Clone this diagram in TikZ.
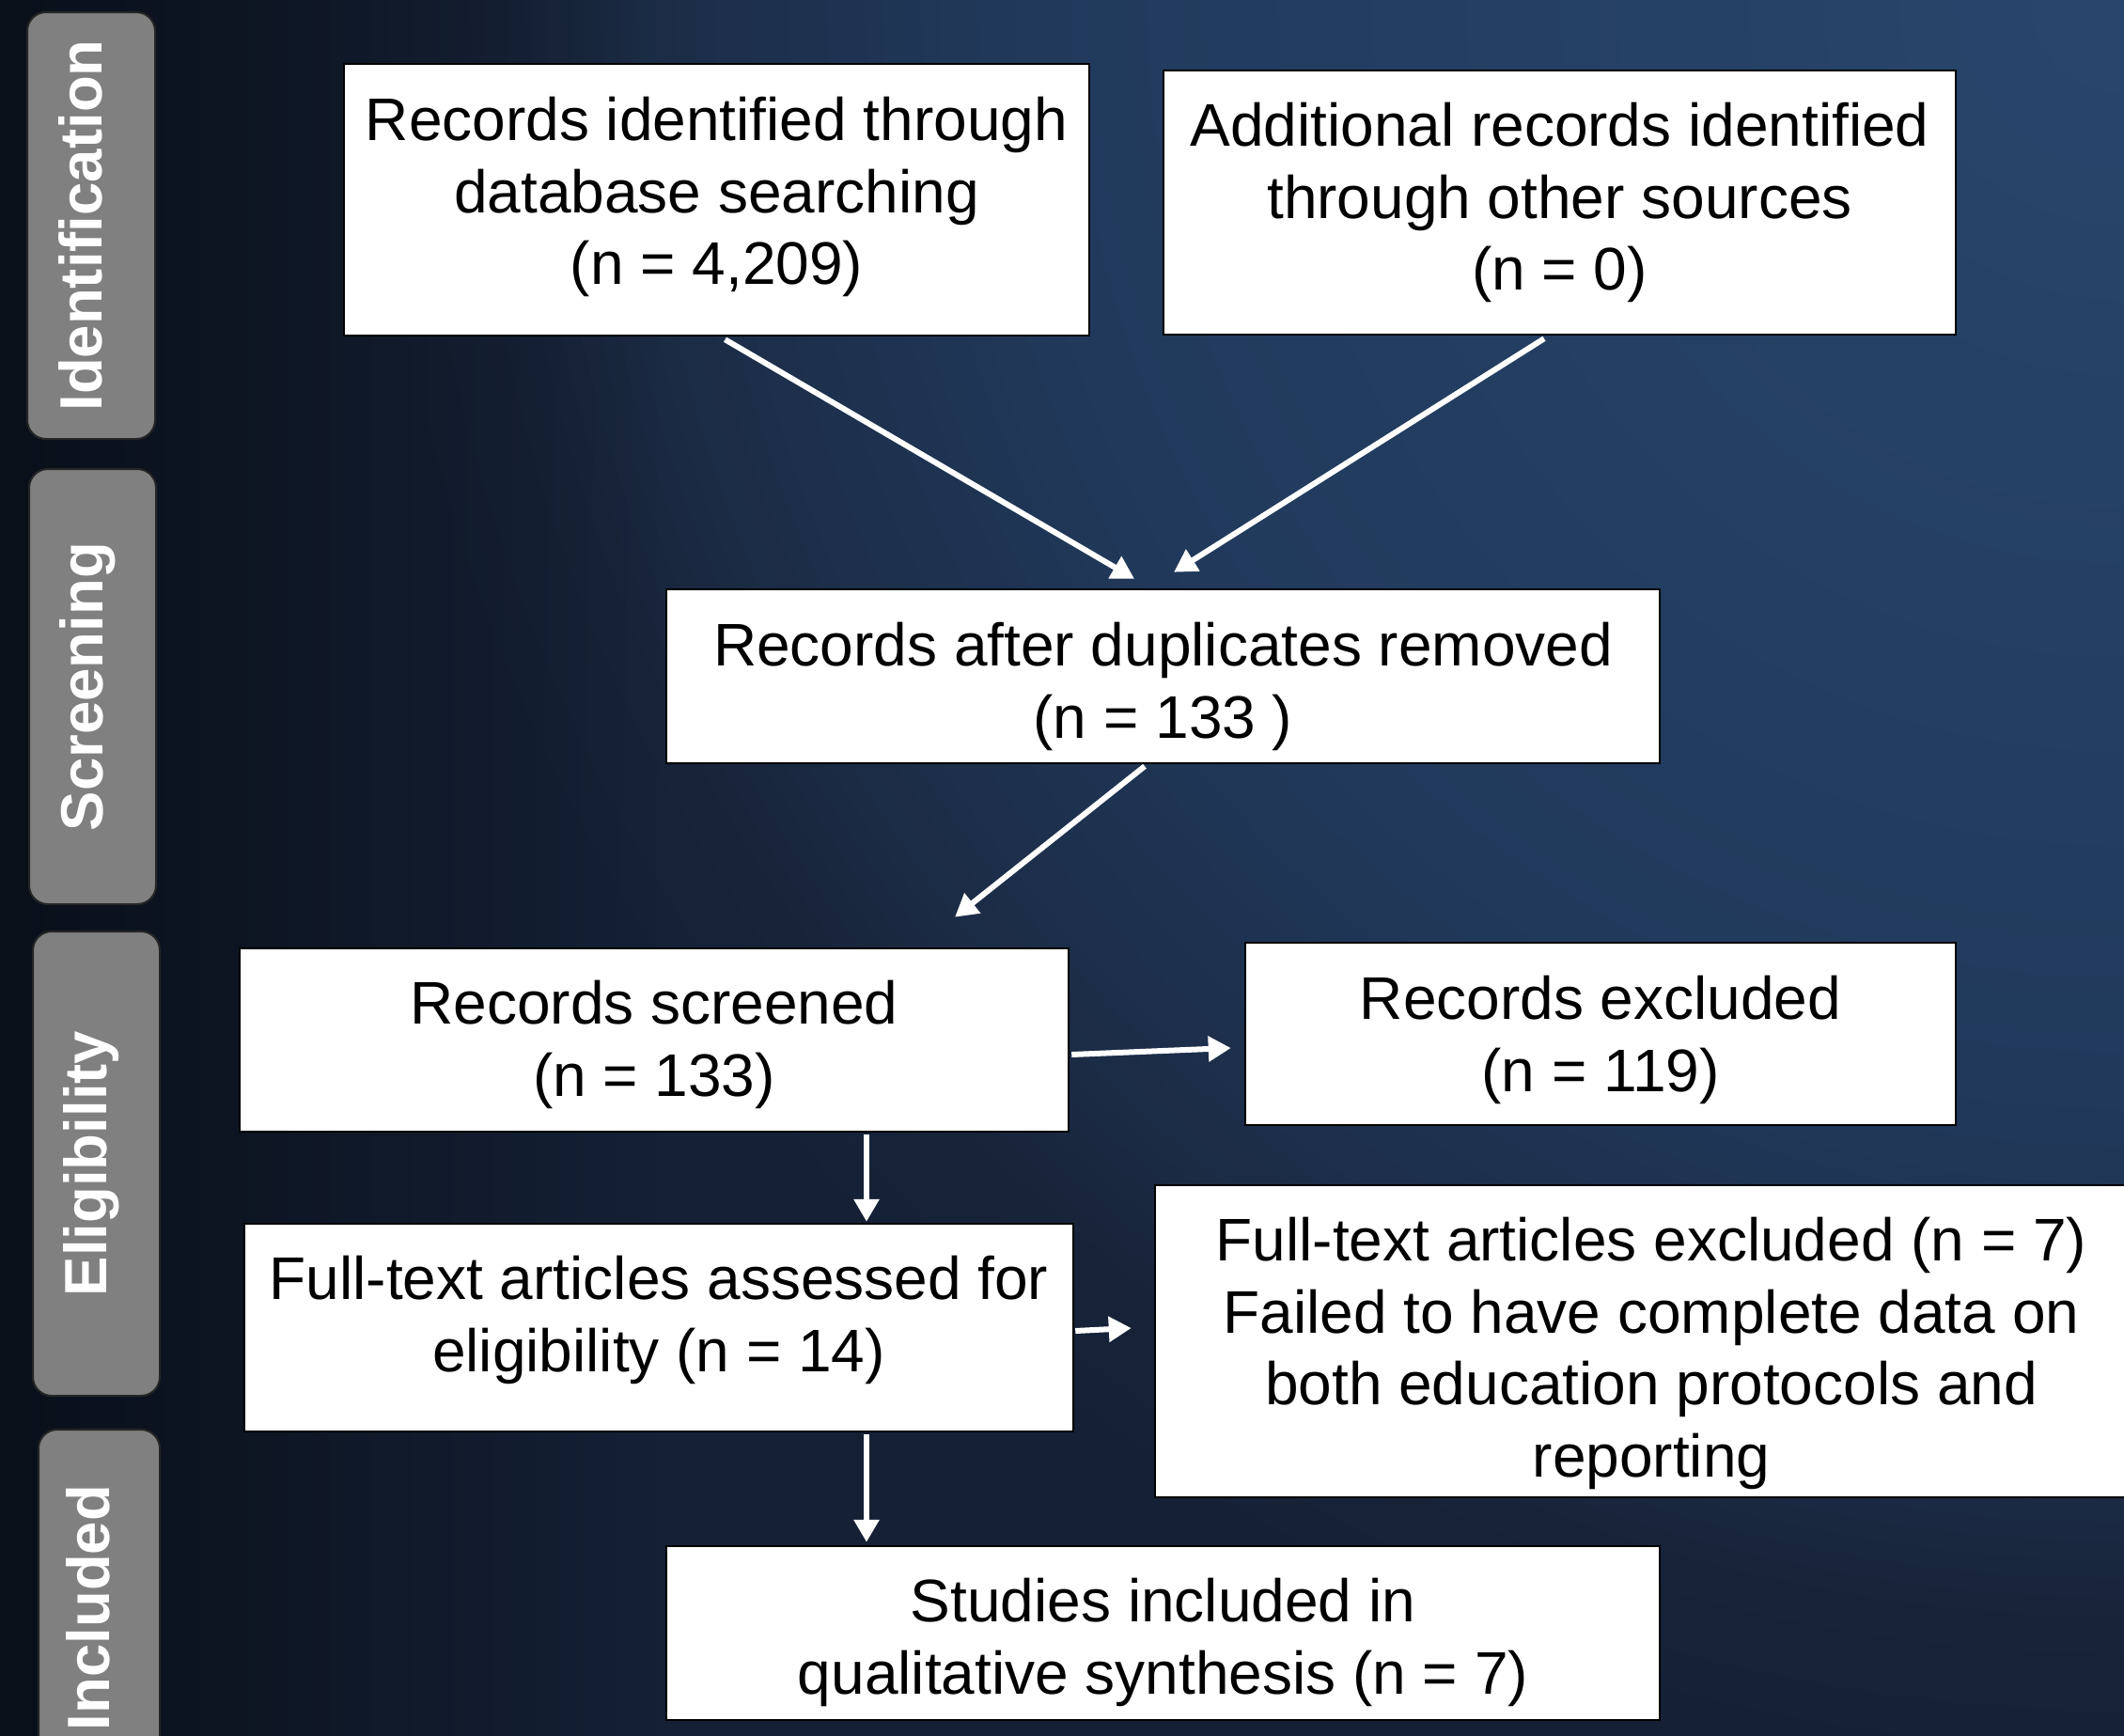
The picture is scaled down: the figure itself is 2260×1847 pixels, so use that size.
\documentclass[tikz,border=0pt]{standalone}
\usepackage{fontspec}
\setmainfont{Liberation Sans}
\usetikzlibrary{arrows.meta,calc,fadings}
\definecolor{bgA}{HTML}{28466C}
\definecolor{bgB}{HTML}{213A5C}
\definecolor{bgC}{HTML}{1C2D48}
\definecolor{bgD}{HTML}{172338}
\definecolor{bgE}{HTML}{152035}
\definecolor{bgdark}{HTML}{090F18}
\definecolor{labgray}{HTML}{808080}
\tikzfading[name=fadeleft, left color=transparent!0, right color=transparent!100]
\tikzset{
  box/.style={draw=black, line width=2.5pt, fill=white, rectangle, inner sep=0pt},
  boxtext/.style={anchor=north, inner sep=0pt, align=center, text=black,
    font=\fontsize{64}{76.5}\selectfont},
  phase/.style={draw=black!85, line width=2pt, fill=labgray, rounded corners=20pt,
    rectangle, inner sep=0pt},
  phasetext/.style={rotate=90, anchor=base, text=white, inner sep=0pt,
    font=\fontsize{63.5}{70}\selectfont\bfseries},
  arr/.style={draw=white, line width=6pt, -{Triangle[length=24pt,width=26pt]}},
}
\begin{document}
\begin{tikzpicture}[x=1pt,y=-1pt]
\useasboundingbox (0,0) rectangle (2260,1847);
\begin{scope}
\clip (0,0) rectangle (2260,1847);
% background: radial glow from the top right corner, darker towards the left
\fill[bgE] (-20,-20) rectangle (2280,1867);
\foreach \k in {0,...,94}{
  \pgfmathsetmacro\r{1900-20*\k}
  \ifdim\r pt<1160pt
    \pgfmathsetmacro\p{\r/1160*100}\colorlet{ringc}{bgB!\p!bgA}
  \else\ifdim\r pt<1550pt
    \pgfmathsetmacro\p{(\r-1160)/390*100}\colorlet{ringc}{bgC!\p!bgB}
  \else\ifdim\r pt<1750pt
    \pgfmathsetmacro\p{(\r-1550)/200*100}\colorlet{ringc}{bgD!\p!bgC}
  \else
    \pgfmathsetmacro\p{(\r-1750)/150*100}\colorlet{ringc}{bgE!\p!bgD}
  \fi\fi\fi
  \fill[ringc] (2260,0) circle (\r);
}
\fill[bgdark, path fading=fadeleft] (-40,-60) rectangle (700,1907);

% phase labels
\node[phase, minimum width=136pt, minimum height=454pt] (p1) at (97,240) {};
\node[phase, minimum width=135pt, minimum height=463pt] (p2) at (98.5,730.5) {};
\node[phase, minimum width=135pt, minimum height=494pt] (p3) at (102.5,1238) {};
\node[phase, minimum width=129pt, minimum height=379pt] (p4) at (105.5,1710.5) {};
\node[phasetext] (t1) at ($(p1.center)+(11,0)$) {Identification};
\node[phasetext] (t2) at ($(p2.center)+(11,0)$) {Screening};
\node[phasetext] (t3) at ($(p3.center)+(11,0)$) {Eligibility};
\node[phasetext] (t4) at ($(p4.center)+(11,0)$) {Included};

% boxes
\node[box, minimum width=793pt, minimum height=289pt] (b1) at (762.5,212.5) {};
\node[box, minimum width=843pt, minimum height=281pt] (b2) at (1659.5,215.5) {};
\node[box, minimum width=1057pt, minimum height=185pt] (b3) at (1237.5,719.5) {};
\node[box, minimum width=882pt, minimum height=195pt] (b4) at (696,1106.5) {};
\node[box, minimum width=756pt, minimum height=194pt] (b5) at (1703,1100) {};
\node[box, minimum width=882pt, minimum height=221pt] (b6) at (701,1412.5) {};
\node[box, minimum width=1056pt, minimum height=332pt] (b7) at (1757,1427) {};
\node[box, minimum width=1057pt, minimum height=185pt] (b8) at (1237.5,1737.5) {};

\node[boxtext] (b1t) at ($(b1.north)+(0,36.5)$)
  {Records identified through\\database searching\\(n = 4,209)};
\node[boxtext] (b2t) at ($(b2.north)+(0,35.5)$)
  {Additional records identified\\through other sources\\(n = 0)};
\node[boxtext] (b3t) at ($(b3.north)+(0,36.5)$)
  {Records after duplicates removed\\(n = 133 )};
\node[boxtext] (b4t) at ($(b4.north)+(0,35.5)$)
  {Records screened\\(n = 133)};
\node[boxtext] (b5t) at ($(b5.north)+(0,36.5)$)
  {Records excluded\\(n = 119)};
\node[boxtext] (b6t) at ($(b6.north)+(0,35.5)$)
  {Full-text articles assessed for\\eligibility (n = 14)};
\node[boxtext] (b7t) at ($(b7.north)+(0,35.5)$)
  {Full-text articles excluded (n = 7)\\Failed to have complete data on\\both education protocols and\\reporting};
\node[boxtext] (b8t) at ($(b8.north)+(0,35.5)$)
  {Studies included in\\qualitative synthesis (n = 7)};

% arrows
\draw[arr] ($(b1.south)+(9,3)$) -- ($(b3.north)+(-30.5,-10)$);
\draw[arr] ($(b2.south)+(-16.5,3)$) -- ($(b3.north)+(11.5,-17)$);
\draw[arr] ($(b3.south)+(-19.5,2)$) -- ($(b4.north)+(320,-32)$);
\draw[arr] ($(b4.east)+(2,15.5)$) -- ($(b5.west)+(-14,15)$);
\draw[arr] ($(b4.south)+(226,2)$) -- ($(b6.north)+(221,-1)$);
\draw[arr] ($(b6.east)+(1,3.5)$) -- ($(b7.west)+(-24,-14)$);
\draw[arr] ($(b6.south)+(221,2)$) -- ($(b8.north)+(-315.5,-3)$);
\end{scope}
\end{tikzpicture}
\end{document}
